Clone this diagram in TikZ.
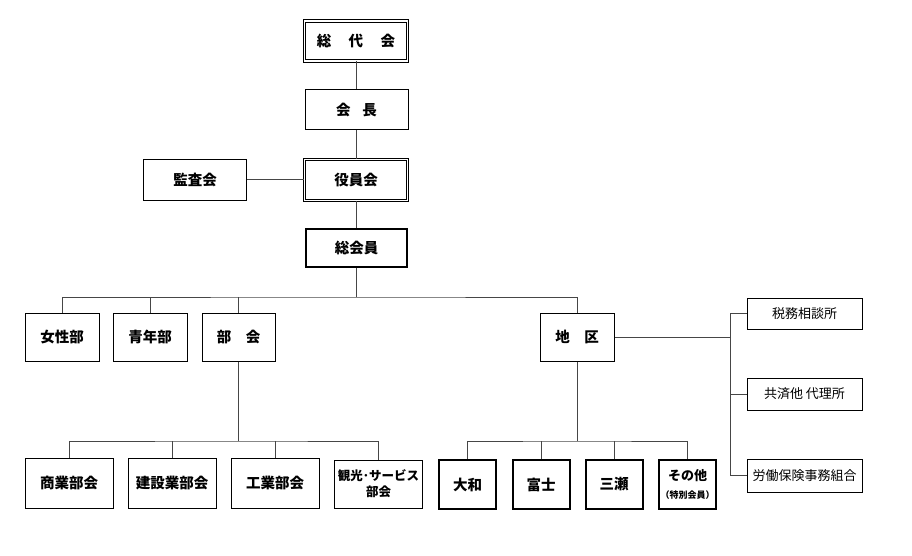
\documentclass[tikz,border=0pt]{standalone}
\usepackage{fontspec}
\setmainfont{Noto Sans CJK JP}
\definecolor{ln}{RGB}{70,70,70}
\begin{document}
\begin{tikzpicture}[x=1pt,y=-1pt,
  box/.style={draw=black,line width=1pt,fill=white,inner sep=0pt,font=\bfseries\fontsize{14.5}{17}\selectfont,align=center},
  dbl/.style={box,double,double distance=1.6pt,line width=0.8pt},
  thk/.style={box,line width=2pt},
  sbox/.style={box,font=\fontsize{13}{15}\selectfont},
  conn/.style={draw=ln,line width=1pt}]
\useasboundingbox (0,0) rectangle (912,556);
\node[dbl,minimum width=103,minimum height=40] (sodai) at (356,41) {総\hspace{1.2em}代\hspace{1.2em}会};
\node[box,minimum width=103,minimum height=40] (kaicho) at (356.5,110) {会\hspace{0.8em}長};
\node[dbl,minimum width=103,minimum height=41] (yakuin) at (356,180) {役員会};
\node[box,minimum width=103,minimum height=41] (kansa) at (195,180) {監査会};
\node[thk,minimum width=101,minimum height=38] (sokaiin) at (356.5,248) {総会員};
\node[box,minimum width=74,minimum height=48] (joshi) at (62,337) {女性部};
\node[box,minimum width=74,minimum height=48] (seinen) at (150,337) {青年部};
\node[box,minimum width=73,minimum height=48] (bukai) at (238.5,337) {部\hspace{1em}会};
\node[box,minimum width=74,minimum height=48] (chiku) at (577,337) {地\hspace{1em}区};
\node[sbox,minimum width=115,minimum height=31] (zeimu) at (804.5,313.5) {税務相談所};
\node[sbox,minimum width=115,minimum height=32] (kyosai) at (804.5,394) {共済他 代理所};
\node[sbox,minimum width=115,minimum height=33] (roudou) at (804.5,475.5) {労働保険事務組合};
\node[box,minimum width=88,minimum height=50] (shogyo) at (69,483) {商業部会};
\node[box,minimum width=88,minimum height=50] (kensetsu) at (172,483) {建設業部会};
\node[box,minimum width=88,minimum height=50] (kogyo) at (275,483) {工業部会};
\node[box,minimum width=88,minimum height=48,font=\bfseries\fontsize{12.5}{16}\selectfont] (kanko) at (378.5,484) {観光･サービス\\部会};
\node[thk,minimum width=57,minimum height=49] (yamato) at (467.5,484.5) {大和};
\node[thk,minimum width=57,minimum height=49] (fuji) at (541,484.5) {富士};
\node[thk,minimum width=57,minimum height=49] (mise) at (614,484.5) {三瀬};
\node[thk,minimum width=57,minimum height=49,font=\bfseries\fontsize{13}{15}\selectfont] (sonota) at (687.5,484.5) {その他\\[3pt]{\fontsize{9}{11}\selectfont （特別会員）}};
% connectors
\draw[conn] (sodai.south) -- (sodai.south |- kaicho.north);
\draw[conn] (sodai.south |- kaicho.south) -- (sodai.south |- yakuin.north);
\draw[conn] (yakuin.south) -- (yakuin.south |- sokaiin.north);
\draw[conn] (kansa.east) -- (yakuin.west);
\coordinate (b1) at (356,297);
\draw[conn] (b1 |- sokaiin.south) -- (b1);
\draw[conn] (joshi.north) |- (b1) -| (chiku.north);
\draw[conn] (seinen.north) -- (seinen.north |- b1);
\draw[conn] (bukai.north) -- (bukai.north |- b1);
\coordinate (rv) at (730,337);
\draw[conn] (chiku.east) -- (rv);
\draw[conn] (zeimu.west) -| (rv);
\draw[conn] (roudou.west) -| (rv);
\draw[conn] (kyosai.west) -- (kyosai.west -| rv);
\coordinate (b2) at (238.5,441);
\draw[conn] (bukai.south) -- (b2);
\draw[conn] (shogyo.north) |- (b2) -| (kanko.north);
\draw[conn] (kensetsu.north) -- (kensetsu.north |- b2);
\draw[conn] (kogyo.north) -- (kogyo.north |- b2);
\coordinate (b3) at (577,441);
\draw[conn] (chiku.south) -- (b3);
\draw[conn] (yamato.north) |- (b3) -| (sonota.north);
\draw[conn] (fuji.north) -- (fuji.north |- b3);
\draw[conn] (mise.north) -- (mise.north |- b3);
\end{tikzpicture}
\end{document}
